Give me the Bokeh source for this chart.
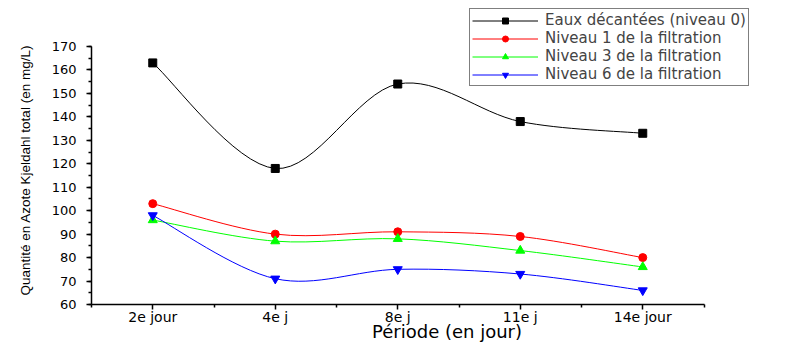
from bokeh.plotting import figure
from bokeh.models import (Range1d, FixedTicker, Legend, LegendItem, ColumnDataSource, Title)
from bokeh.embed import file_html
from bokeh.resources import INLINE

categories = ["2e jour", "4e j", "8e j", "11e j", "14e jour"]
eaux = [163, 118, 154, 138, 133]
niveau1 = [103, 90, 91, 89, 80]
niveau3 = [96, 87, 88, 83, 76]
niveau6 = [98, 71, 75, 73, 66]

series = [
    ("Eaux décantées (niveau 0)", eaux, "black", "square", 8),
    ("Niveau 1 de la filtration", niveau1, "red", "circle", 8),
    ("Niveau 3 de la filtration", niveau3, "#00ff00", "triangle", 9),
    ("Niveau 6 de la filtration", niveau6, "blue", "inverted_triangle", 9),
]

FONT = "DejaVu Sans"

p = figure(width=809, height=345, output_backend="svg", toolbar_location=None,
           x_range=Range1d(-0.5, 5.304), y_range=Range1d(60, 186.2),
           min_border_left=91, min_border_right=7, min_border_top=8,
           min_border_bottom=41)
p.outline_line_color = None
p.xgrid.visible = False
p.ygrid.visible = False
p.background_fill_color = "white"


def spline_segments(xs, ys):
    n = len(xs)
    out = dict(x0=[], y0=[], x1=[], y1=[], cx0=[], cy0=[], cx1=[], cy1=[])
    for i in range(n - 1):
        p0 = (xs[max(i - 1, 0)], ys[max(i - 1, 0)])
        p1 = (xs[i], ys[i])
        p2 = (xs[i + 1], ys[i + 1])
        p3 = (xs[min(i + 2, n - 1)], ys[min(i + 2, n - 1)])
        out["x0"].append(p1[0]); out["y0"].append(p1[1])
        out["x1"].append(p2[0]); out["y1"].append(p2[1])
        out["cx0"].append(p1[0] + (p2[0] - p0[0]) / 6.0)
        out["cy0"].append(p1[1] + (p2[1] - p0[1]) / 6.0)
        out["cx1"].append(p2[0] - (p3[0] - p1[0]) / 6.0)
        out["cy1"].append(p2[1] - (p3[1] - p1[1]) / 6.0)
    return out

xs = list(range(len(categories)))
items = []
for label, vals, color, marker, size in series:
    src = ColumnDataSource(spline_segments(xs, vals))
    p.bezier(x0="x0", y0="y0", x1="x1", y1="y1", cx0="cx0", cy0="cy0",
             cx1="cx1", cy1="cy1", source=src, line_color=color, line_width=1)
    dummy = p.line(x=[float("nan"), float("nan")], y=[float("nan"), float("nan")],
                   line_color=color, line_width=1)
    sc = p.scatter(x=xs, y=vals, marker=marker, size=size, fill_color=color,
                   line_color=color)
    items.append(LegendItem(label=label, renderers=[dummy, sc]))

legend = Legend(items=items, location=(378, 218), orientation="vertical",
                label_text_font=FONT, label_text_font_size="15px",
                label_height=15, glyph_height=15, glyph_width=66,
                spacing=0, padding=2, margin=0, label_standoff=7,
                border_line_color="black", border_line_width=1,
                background_fill_alpha=1.0)
p.add_layout(legend, "center")

# axes
p.xaxis.ticker = FixedTicker(ticks=xs, minor_ticks=[i + 0.5 for i in range(-1, len(categories))])
p.xaxis.major_label_overrides = {i: c for i, c in enumerate(categories)}
p.xaxis.bounds = (-0.5, 4.5)
p.yaxis.ticker = FixedTicker(ticks=list(range(60, 171, 10)),
                             minor_ticks=list(range(60, 171, 5)))
p.yaxis.bounds = (60, 170)

for ax in (p.xaxis, p.yaxis):
    ax.axis_line_color = "black"
    ax.axis_line_width = 1.5
    ax.major_tick_line_color = "black"
    ax.minor_tick_line_color = "black"
    ax.major_tick_line_width = 1.5
    ax.minor_tick_line_width = 1.5
    ax.major_tick_in = 0
    ax.major_tick_out = 5
    ax.minor_tick_in = 0
    ax.minor_tick_out = 3
    ax.major_label_text_font = FONT
    ax.major_label_text_color = "black"
    ax.axis_label_text_font_style = "normal"
    ax.axis_label_text_color = "black"

p.xaxis.major_label_text_font_size = "14px"
p.yaxis.major_label_text_font_size = "13px"

p.xaxis.axis_label = "Période (en jour)"
p.xaxis.axis_label_text_font = FONT
p.xaxis.axis_label_text_font_size = "18px"
p.xaxis.major_label_standoff = -1
p.xaxis.axis_label_standoff = -7

p.yaxis.major_label_standoff = 10

ytitle = Title(text="Quantité en Azote Kjeldahl total (en mg/L)", align="left",
               offset=9, vertical_align="top", standoff=28,
               text_font="Liberation Sans", text_font_size="13.5px",
               text_font_style="normal", text_color="black")
p.add_layout(ytitle, "left")

open("out.html", "w").write(file_html(p, INLINE))
